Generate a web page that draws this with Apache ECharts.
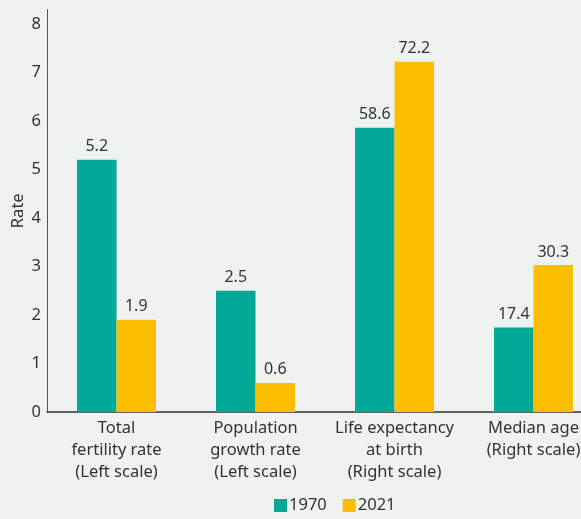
<!DOCTYPE html>
<html>
<head>
<meta charset="utf-8">
<script src="https://cdn.jsdelivr.net/npm/echarts@6/dist/echarts.min.js"></script>
<style>
html,body{margin:0;padding:0;background:#eef2f1;overflow:hidden;}
#chart{width:603px;height:519px;}
</style>
</head>
<body>
<div id="chart"></div>
<script>
var categories = ['Total\nfertility rate\n(Left scale)', 'Population\ngrowth rate\n(Left scale)', 'Life expectancy\nat birth\n(Right scale)', 'Median age\n(Right scale)'];
var scaleSide = ['left', 'left', 'right', 'right'];
var values1970 = [5.2, 2.5, 58.6, 17.4];
var values2021 = [1.9, 0.6, 72.2, 30.3];
var leftTicks = [0, 1, 2, 3, 4, 5, 6, 7, 8];

var FONT = 'Noto Sans';
var FS = 16.5;
function pick(arr, side) {
  return arr.map(function (v, i) { return scaleSide[i] === side ? v : '-'; });
}
var labelCfg = {show: true, position: 'top', distance: 5, color: '#333', fontSize: 16, fontFamily: FONT,
  formatter: function (p) { return p.value.toFixed(1); }};
var C1 = '#00a896', C2 = '#fbbf00';
function mk(name, data, yIdx, stack, color) {
  return {name: name, type: 'bar', yAxisIndex: yIdx, stack: stack, data: data, barWidth: 39.5,
    barGap: '0%', itemStyle: {color: color}, label: labelCfg};
}
var chart = echarts.init(document.getElementById('chart'));
chart.setOption({
  backgroundColor: '#eef2f1',
  animation: false,
  textStyle: {fontFamily: FONT},
  grid: {left: 47, right: 0, top: 9.5, bottom: 107, containLabel: false, outerBoundsMode: 'none'},
  legend: {data: ['1970', '2021'], bottom: 0, left: 269, itemWidth: 13, itemHeight: 13, itemGap: 16,
    icon: 'rect', textStyle: {fontSize: FS, color: '#333', fontFamily: FONT, padding: [0, 0, 0, -3]}},
  xAxis: {type: 'category', data: categories,
    axisLine: {lineStyle: {color: '#333', width: 1.5}}, axisTick: {show: false},
    axisLabel: {interval: 0, fontSize: FS, lineHeight: 22, color: '#333', margin: 5, fontFamily: FONT}},
  yAxis: [
    {type: 'value', min: 0, max: 8.3, interval: 1, name: 'Rate', nameLocation: 'middle', nameGap: 20,
      nameMoveOverlap: false,
      nameTextStyle: {fontSize: FS, color: '#333', fontFamily: FONT},
      axisLine: {show: true, lineStyle: {color: '#555', width: 1}}, axisTick: {show: false},
      splitLine: {show: false},
      axisLabel: {fontSize: FS, color: '#333', margin: 6, fontFamily: FONT, padding: [0, 0, 8, 0],
        formatter: function (v) { return leftTicks.indexOf(v) >= 0 ? String(v) : ''; }}},
    {type: 'value', min: 0, max: 83, show: false, splitLine: {show: false}}
  ],
  series: [
    mk('1970', pick(values1970, 'left'), 0, 'a', C1),
    mk('1970', pick(values1970, 'right'), 1, 'a', C1),
    mk('2021', pick(values2021, 'left'), 0, 'b', C2),
    mk('2021', pick(values2021, 'right'), 1, 'b', C2)
  ]
});
</script>
</body>
</html>
